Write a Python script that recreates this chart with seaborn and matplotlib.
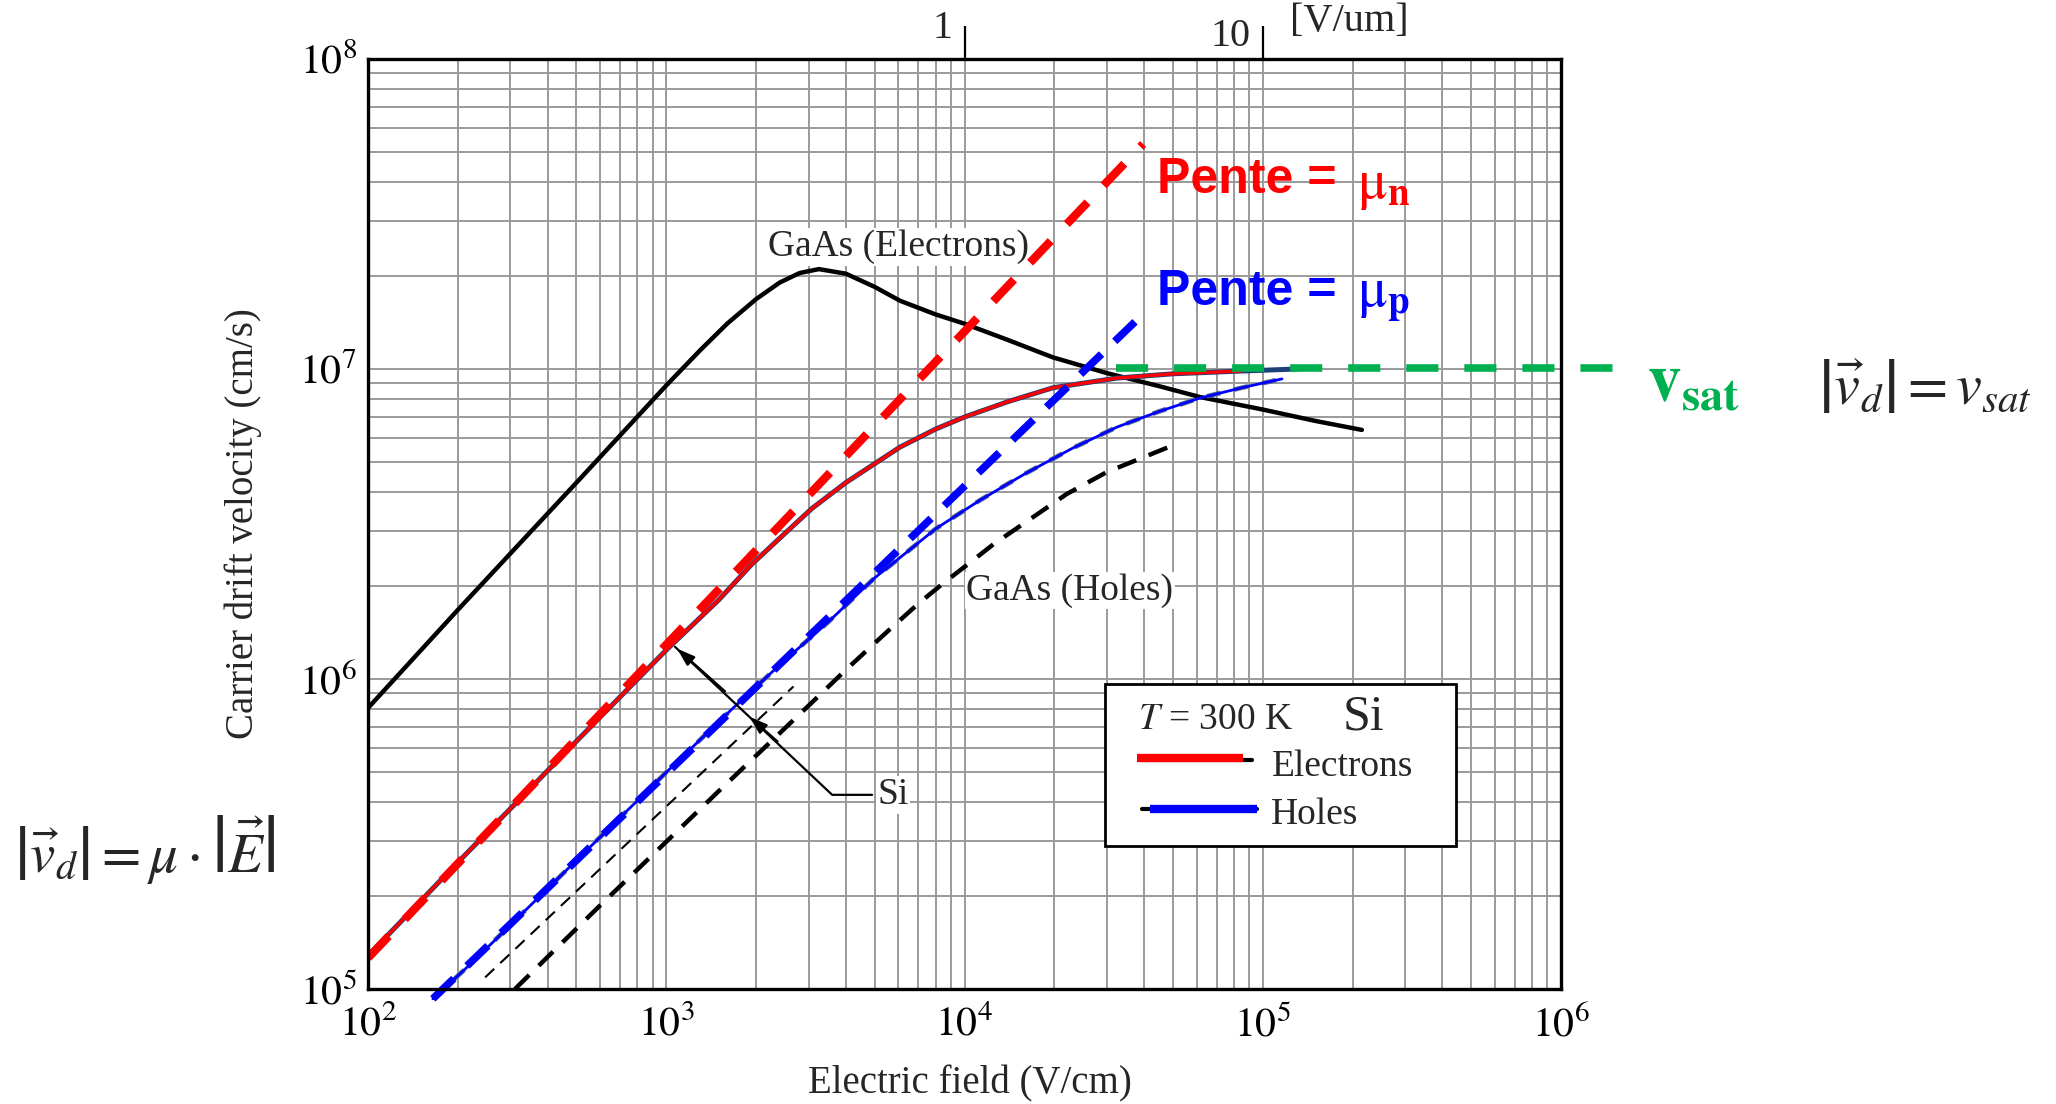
import numpy as np
import pandas as pd
import matplotlib
matplotlib.use("Agg")
import matplotlib.pyplot as plt
import matplotlib.transforms as mtransforms
from matplotlib.patches import Rectangle
from matplotlib.lines import Line2D
import seaborn as sns

# ---------------- data ----------------
gaas_e_E = [100, 200, 500, 1000, 1300, 1600, 2000, 2400, 2800, 3250, 4000, 5000, 6080, 8000,
            1.0e4, 1.4e4, 1.98e4, 3.0e4, 4.5e4, 6.16e4, 1.0e5, 1.5e5, 2.15e5]
gaas_e_v = [8.06e5, 1.67e6, 4.3e6, 8.85e6, 1.15e7, 1.4e7, 1.68e7, 1.9e7, 2.04e7, 2.1e7, 2.03e7, 1.84e7, 1.66e7, 1.5e7,
            1.4e7, 1.24e7, 1.09e7, 9.7e6, 8.8e6, 8.12e6, 7.4e6, 6.8e6, 6.36e6]

si_e_E = [100, 200, 500, 1000, 1500, 1940, 2500, 3080, 4000, 5000, 6080, 8000, 1.0e4, 1.4e4, 1.98e4,
          3.25e4, 5.0e4, 8.5e4, 1.3e5]
si_e_v = [1.28e5, 2.56e5, 6.3e5, 1.24e6, 1.8e6, 2.35e6, 2.95e6, 3.55e6, 4.3e6, 4.95e6, 5.6e6, 6.4e6, 7.0e6, 7.85e6, 8.7e6,
          9.35e6, 9.65e6, 9.85e6, 1.0e7]

si_h_E = [165, 220, 500, 1000, 1730, 2500, 3500, 5000, 5940, 8000, 1.13e4, 1.6e4, 2.3e4, 3.25e4, 4.5e4,
          6.16e4, 8.5e4, 1.16e5]
si_h_v = [9.3e4, 1.2e5, 2.6e5, 5.0e5, 8.3e5, 1.15e6, 1.53e6, 2.12e6, 2.42e6, 3.05e6, 3.78e6, 4.6e6, 5.55e6, 6.5e6, 7.3e6,
          8.06e6, 8.7e6, 9.29e6]

gaas_h_E = [311, 600, 980, 1500, 2250, 3000, 4000, 5500, 7000, 8400, 1.0e4, 1.25e4, 1.6e4, 2.2e4, 3.0e4, 4.86e4]
gaas_h_v = [1.0e5, 1.86e5, 2.93e5, 4.35e5, 6.3e5, 8.2e5, 1.07e6, 1.42e6, 1.75e6, 2.02e6, 2.3e6, 2.72e6, 3.2e6, 3.95e6,
            4.65e6, 5.61e6]

thin_E = [247, 2670]
thin_v = [1.09e5, 9.46e5]

pente_n_E = [100, 3.97e4]
pente_n_v = [1.26e5, 5.32e7]

pente_p_E = [165, 3.73e4]
pente_p_v = [9.3e4, 1.42e7]

vsat_E = [3.22e4, 1.65e6]
vsat_v = [1.01e7, 1.01e7]

x_ticks = [1e2, 1e3, 1e4, 1e5, 1e6]
x_tick_labels = ["$10^{2}$", "$10^{3}$", "$10^{4}$", "$10^{5}$", "$10^{6}$"]
y_ticks = [1e5, 1e6, 1e7, 1e8]
y_tick_labels = ["$10^{5}$", "$10^{6}$", "$10^{7}$", "$10^{8}$"]
top_ticks = [1e4, 1e5]
top_tick_labels = ["1", "10"]

# ---------------- style ----------------
sns.set_theme(style="white")
plt.rcParams["font.family"] = ["Liberation Serif", "DejaVu Serif"]
plt.rcParams["mathtext.fontset"] = "stix"

W, H = 2056, 1104
fig = plt.figure(figsize=(W / 100, H / 100), dpi=100)
fig.patch.set_facecolor("white")

def fx(x):
    return x / W

def fy(y):
    return 1 - y / H

ax = fig.add_axes([fx(368), fy(989), (1561 - 368) / W, (989 - 59) / H])
ax.set_xscale("log")
ax.set_yscale("log")
ax.set_xlim(1e2, 1e6)
ax.set_ylim(1e5, 1e8)

ax.grid(True, which="both", color="#9a9a9a", lw=1.4)
ax.set_axisbelow(True)
for s in ax.spines.values():
    s.set_color("black")
    s.set_linewidth(2.4)
    s.set_zorder(5)

ax.set_xticks(x_ticks)
ax.set_xticklabels(x_tick_labels)
ax.set_yticks(y_ticks)
ax.set_yticklabels(y_tick_labels)
ax.tick_params(axis="both", which="both", length=0, labelsize=30, colors="black")
ax.tick_params(axis="x", pad=12)
ax.tick_params(axis="y", pad=8)

ax.set_xlabel("Electric field (V/cm)", fontsize=28)
ax.set_ylabel("Carrier drift velocity (cm/s)", fontsize=28)
ax.xaxis.label.set_va("center")
ax.yaxis.label.set_va("center")
ax.xaxis.set_label_coords((970 - 368) / 1193, (989 - 1084) / 930)
ax.yaxis.set_label_coords((243 - 368) / 1193, 0.5)

# top axis in V/um
sec = ax.secondary_xaxis("top")
sec.set_xticks(top_ticks)
sec.set_xticklabels(["", ""])
sec.tick_params(axis="x", which="major", length=24, width=1.6, direction="out", colors="black")
sec.tick_params(axis="x", which="minor", length=0)
sec.spines["top"].set_visible(False)
top_label_y = [28, 36]
for E, lab, yy in zip(top_ticks, top_tick_labels, top_label_y):
    tr = mtransforms.blended_transform_factory(ax.transData, fig.transFigure)
    off = mtransforms.ScaledTranslation(-12 / 100, 0, fig.dpi_scale_trans)
    ax.text(E, fy(yy), lab, transform=tr + off, ha="right", va="center", fontsize=29)
fig.text(fx(1290), fy(22), "[V/um]", ha="left", va="center", fontsize=29)

# ---------------- curves ----------------
def line(E, v, **kw):
    df = pd.DataFrame({"E": E, "v": v})
    sns.lineplot(data=df, x="E", y="v", ax=ax, sort=False, estimator=None, legend=False, **kw)

line(gaas_e_E, gaas_e_v, color="black", lw=3.2, zorder=3)
line(thin_E, thin_v, color="black", lw=1.5, linestyle=(0, (6, 4)), zorder=3)
line(gaas_h_E, gaas_h_v, color="black", lw=3.2, linestyle=(0, (4.5, 3)), zorder=3)

line(si_e_E, si_e_v, color="#1f3f7a", lw=3.6, zorder=3)
line(si_e_E[:-1], si_e_v[:-1], color="#ff0000", lw=2.4, zorder=3.1)

line(si_h_E, si_h_v, color="#5a6a8c", lw=3.4, linestyle=(0, (3, 3)), zorder=3, clip_on=False)
line(si_h_E, si_h_v, color="#0000ff", lw=2.0, zorder=3.1, clip_on=False)

line(pente_n_E, pente_n_v, color="#ff0000", lw=6.0, linestyle=(0, (3.6, 2.8)),
     solid_capstyle="butt", zorder=4)
line(pente_p_E, pente_p_v, color="#0000ff", lw=5.5, linestyle=(0, (3.8, 2.4)),
     solid_capstyle="butt", zorder=4, clip_on=False)
line(vsat_E, vsat_v, color="#00b050", lw=5.5, linestyle=(0, (4.2, 3.4)),
     zorder=4, clip_on=False)

# ---------------- annotations ----------------
ax.text(6.0e3, 2.48e7, "GaAs (Electrons)", ha="center", va="center", fontsize=27,
        bbox=dict(facecolor="white", edgecolor="none", pad=1), zorder=3.5)
ax.text(2.25e4, 1.93e6, "GaAs (Holes)", ha="center", va="center", fontsize=27,
        bbox=dict(facecolor="white", edgecolor="none", pad=1), zorder=3.5)
ax.text(5.1e3, 4.23e5, "Si", ha="left", va="center", fontsize=27,
        bbox=dict(facecolor="white", edgecolor="none", pad=1), zorder=3.5)
ax.plot([4.9e3, 3.6e3, 1.07e3], [4.23e5, 4.23e5, 1.27e6], color="black", lw=1.6, zorder=3.6)
ax.annotate("", xy=(1.07e3, 1.27e6), xytext=(1.6e3, 9.0e5),
            arrowprops=dict(arrowstyle="-|>,head_length=0.9,head_width=0.3", color="black", lw=1.6),
            zorder=3.6)
ax.annotate("", xy=(1.87e3, 7.66e5), xytext=(2.4e3, 6.2e5),
            arrowprops=dict(arrowstyle="-|>,head_length=0.9,head_width=0.3", color="black", lw=1.6),
            zorder=3.6)

sans_bold = dict(fontsize=36, fontweight="bold", family=["Liberation Sans", "DejaVu Sans"],
                 ha="left", va="center")
fig.text(fx(1157), fy(180), "Pente =", color="#ff0000", **sans_bold)
fig.text(fx(1357), fy(186), r"$\mathrm{\mu}_{\mathbf{n}}$", color="#ff0000", fontsize=40,
         ha="left", va="center")
fig.text(fx(1157), fy(292), "Pente =", color="#0000ff", **sans_bold)
fig.text(fx(1357), fy(298), r"$\mathrm{\mu}_{\mathbf{p}}$", color="#0000ff", fontsize=40,
         ha="left", va="center")

fig.text(fx(1647), fy(385), r"$\mathbf{v}_{\mathbf{sat}}$", color="#00b050", fontsize=48,
         ha="left", va="center")
fig.text(fx(1818), fy(388), r"$\left|\vec{v}_d\right| = v_{sat}$", fontsize=42,
         ha="left", va="center")
fig.text(fx(14), fy(850), r"$\left|\vec{v}_d\right| = \mu\cdot\left|\vec{E}\right|$", fontsize=41,
         ha="left", va="center")

# ---------------- legend box ----------------
fig.add_artist(Rectangle((fx(1105), fy(846)), (1456 - 1105) / W, (846 - 684) / H,
                         transform=fig.transFigure, facecolor="white", edgecolor="black",
                         lw=2.0, zorder=6))
fig.text(fx(1138), fy(720), r"$T$ = 300 K", fontsize=27, ha="left", va="center", zorder=7)
fig.text(fx(1343), fy(717), "Si", fontsize=36, ha="left", va="center", zorder=7)
fig.add_artist(Line2D([fx(1141), fx(1252)], [fy(760), fy(760)], transform=fig.transFigure,
                      color="black", lw=3, zorder=7))
fig.add_artist(Line2D([fx(1137), fx(1243)], [fy(758), fy(758)], transform=fig.transFigure,
                      color="#ff0000", lw=6, solid_capstyle="butt", zorder=7.1))
fig.text(fx(1272), fy(767), "Electrons", fontsize=27, ha="left", va="center", zorder=7)
fig.add_artist(Line2D([fx(1142), fx(1257)], [fy(809), fy(809)], transform=fig.transFigure,
                      color="black", lw=3, zorder=7))
fig.add_artist(Line2D([fx(1150), fx(1257)], [fy(809), fy(809)], transform=fig.transFigure,
                      color="#0000ff", lw=6, solid_capstyle="butt", zorder=7.1))
fig.text(fx(1271), fy(815), "Holes", fontsize=27, ha="left", va="center", zorder=7)

fig.savefig("out.png", dpi=100, facecolor="white")
